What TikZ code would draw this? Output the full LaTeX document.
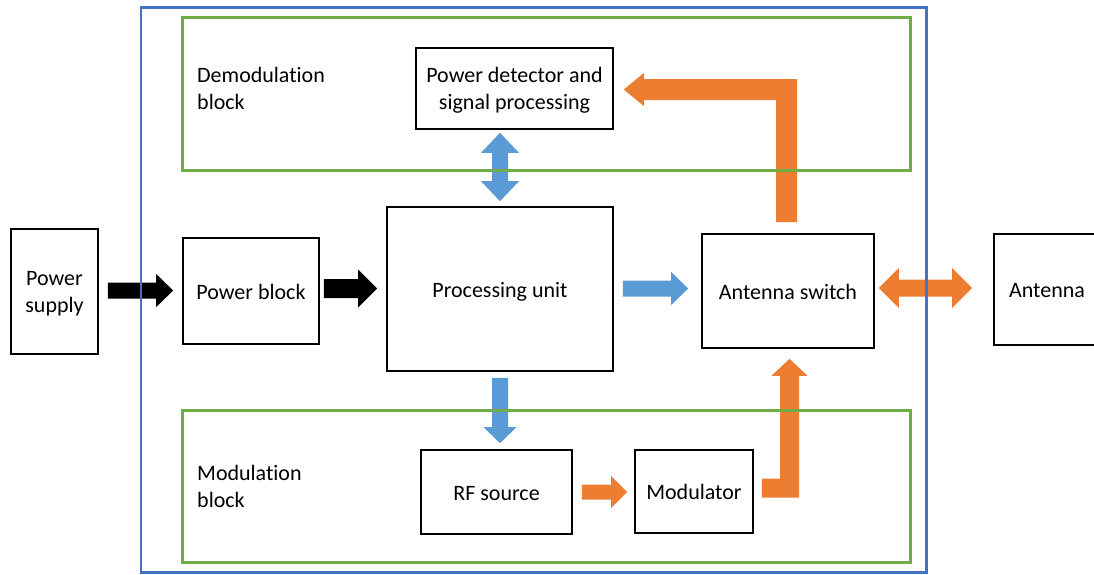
\documentclass[tikz,border=0pt]{standalone}
\usepackage{fontspec}
\setmainfont{Carlito}[Ligatures=NoCommon]
\usetikzlibrary{calc}

\definecolor{frameblue}{HTML}{4472C4}
\definecolor{framegreen}{HTML}{70AD47}
\definecolor{flowblue}{HTML}{5B9BD5}
\definecolor{floworange}{HTML}{ED7D31}

% Struts that fix where the baselines sit inside the text block
\newcommand\topstrut[1]{\rule[-7pt]{0pt}{#1}}
\newcommand\bottomstrut{\rule[-7pt]{0pt}{20pt}}

% Block arrows: #1 style, #2 tail, #3 tip, #4 shaft half-width, #5 head half-width, #6 head length
\newcommand\arrowRight[6]{\fill[#1] let \p1=(#2), \p2=(#3) in
  (\x1,\y2+#4pt) -- (\x2-#6pt,\y2+#4pt) -- (\x2-#6pt,\y2+#5pt) -- (\p2) --
  (\x2-#6pt,\y2-#5pt) -- (\x2-#6pt,\y2-#4pt) -- (\x1,\y2-#4pt) -- cycle;}
\newcommand\arrowDown[6]{\fill[#1] let \p1=(#2), \p2=(#3) in
  (\x2-#4pt,\y1) -- (\x2-#4pt,\y2+#6pt) -- (\x2-#5pt,\y2+#6pt) -- (\p2) --
  (\x2+#5pt,\y2+#6pt) -- (\x2+#4pt,\y2+#6pt) -- (\x2+#4pt,\y1) -- cycle;}
\newcommand\arrowLR[6]{\fill[#1] let \p1=(#2), \p2=(#3) in
  (\x1,\y2) -- (\x1+#6pt,\y2+#5pt) -- (\x1+#6pt,\y2+#4pt) -- (\x2-#6pt,\y2+#4pt) --
  (\x2-#6pt,\y2+#5pt) -- (\p2) -- (\x2-#6pt,\y2-#5pt) -- (\x2-#6pt,\y2-#4pt) --
  (\x1+#6pt,\y2-#4pt) -- (\x1+#6pt,\y2-#5pt) -- cycle;}
\newcommand\arrowUD[6]{\fill[#1] let \p1=(#2), \p2=(#3) in
  (\x2,\y1) -- (\x2+#5pt,\y1-#6pt) -- (\x2+#4pt,\y1-#6pt) -- (\x2+#4pt,\y2+#6pt) --
  (\x2+#5pt,\y2+#6pt) -- (\p2) -- (\x2-#5pt,\y2+#6pt) -- (\x2-#4pt,\y2+#6pt) --
  (\x2-#4pt,\y1-#6pt) -- (\x2-#5pt,\y1-#6pt) -- cycle;}
% L-shaped: right, then up to the tip
\newcommand\arrowRightUp[6]{\fill[#1] let \p1=(#2), \p2=(#3) in
  (\x1,\y1+#4pt) -- (\x2-#4pt,\y1+#4pt) -- (\x2-#4pt,\y2-#6pt) -- (\x2-#5pt,\y2-#6pt) --
  (\p2) -- (\x2+#5pt,\y2-#6pt) -- (\x2+#4pt,\y2-#6pt) -- (\x2+#4pt,\y1-#4pt) --
  (\x1,\y1-#4pt) -- cycle;}
% L-shaped: up, then left to the tip
\newcommand\arrowUpLeft[6]{\fill[#1] let \p1=(#2), \p2=(#3) in
  (\x1-#4pt,\y1) -- (\x1-#4pt,\y2-#4pt) -- (\x2+#6pt,\y2-#4pt) -- (\x2+#6pt,\y2-#5pt) --
  (\p2) -- (\x2+#6pt,\y2+#5pt) -- (\x2+#6pt,\y2+#4pt) -- (\x1+#4pt,\y2+#4pt) --
  (\x1+#4pt,\y1) -- cycle;}

\begin{document}
\begin{tikzpicture}[x=1pt,y=-1pt,
  every node/.style={font=\fontsize{22}{27}\selectfont, text=black,
    execute at begin node=\topstrut{30pt}, execute at end node=\bottomstrut},
  twoline/.style={execute at begin node=\topstrut{56pt}},
  box/.style={draw=black, line width=1.6pt, fill=white, inner sep=0pt, align=center},
  label/.style={inner sep=0pt, align=left, anchor=west, twoline},
  outerframe/.style={draw=frameblue, line width=2.6pt},
  groupframe/.style={draw=framegreen, line width=3pt},
  blk/.style={black},
  bluearrow/.style={flowblue},
  orangearrow/.style={floworange}]

\clip (0,0) rectangle (1094,574);
\fill[white] (0,0) rectangle (1094,574);

% Blocks
\node[box, twoline, minimum width=87pt,  minimum height=125pt] (ps)  at (54.5,291.5) {Power\\supply};
\node[box, minimum width=136pt, minimum height=106pt] (pb)  at (251,291)    {Power block};
\node[box, minimum width=226pt, minimum height=164pt] (pu)  at (500,289)    {Processing unit};
\node[box, twoline, minimum width=197pt, minimum height=81pt]  (pd)  at (514.5,88.5) {Power detector and\\signal processing};
\node[box, minimum width=172pt, minimum height=114pt] (as)  at (788,291)    {Antenna switch};
\node[box, minimum width=106pt, minimum height=111pt] (ant) at (1047,289.5) {Antenna};
\node[box, minimum width=151pt, minimum height=84pt]  (rf)  at (496.5,492)  {RF source};
\node[box, minimum width=118pt, minimum height=83pt]  (mod) at (694,491.5)  {Modulator};

% Group labels
\node[label] (demodlbl) at (197,88)    {Demodulation\\block};
\node[label] (modlbl)   at (197,486.5) {Modulation\\block};

% Arrow end points
\coordinate (a1s) at ($(ps.east)+(9,-1)$);
\coordinate (a1e) at ($(pb.west)+(-9,-0.5)$);
\coordinate (a2s) at ($(pb.east)+(4,-2.5)$);
\coordinate (a2e) at ($(pu.west)+(-9,-0.5)$);
\coordinate (b1s) at ($(pu.east)+(9,-0.5)$);
\coordinate (b1e) at ($(as.west)+(-13,-2.5)$);
\coordinate (b2s) at ($(pd.south)+(-14.5,3)$);
\coordinate (b2e) at ($(pu.north)+(0,-5)$);
\coordinate (b3s) at ($(pu.south)+(0,6)$);
\coordinate (b3e) at ($(rf.north)+(3.5,-6)$);
\coordinate (o1s) at ($(rf.east)+(9,0)$);
\coordinate (o1e) at ($(mod.west)+(-7,0.5)$);
\coordinate (o2s) at ($(mod.east)+(8,-3.5)$);
\coordinate (o2e) at ($(as.south)+(1.5,10)$);
\coordinate (o3s) at ($(as.north)+(-1.5,-11)$);
\coordinate (o3e) at ($(pd.east)+(10,1)$);
\coordinate (o4s) at ($(as.east)+(4,-3)$);
\coordinate (o4e) at ($(ant.west)+(-21,-1.5)$);

% Power path
\arrowRight{blk}{a1s}{a1e}{8}{16.5}{17}
\arrowRight{blk}{a2s}{a2e}{9.5}{19}{19}

% Control / data
\arrowRight{bluearrow}{b1s}{b1e}{8}{16.5}{17}
\arrowUD{bluearrow}{b2s}{b2e}{8}{19}{20}
\arrowDown{bluearrow}{b3s}{b3e}{8}{16.5}{16}

% RF path
\arrowRight{orangearrow}{o1s}{o1e}{7.5}{16}{16}
\arrowRightUp{orangearrow}{o2s}{o2e}{9.5}{18}{17}
\arrowUpLeft{orangearrow}{o3s}{o3e}{10.5}{16.5}{20}
\arrowLR{orangearrow}{o4s}{o4e}{8.5}{20}{20}

% Frames
\draw[groupframe] (182,17.5) rectangle (910,170);
\draw[groupframe] (182,410) rectangle (910,562.5);
\draw[outerframe] (141,7.5) rectangle (926.5,572.5);
\end{tikzpicture}
\end{document}
